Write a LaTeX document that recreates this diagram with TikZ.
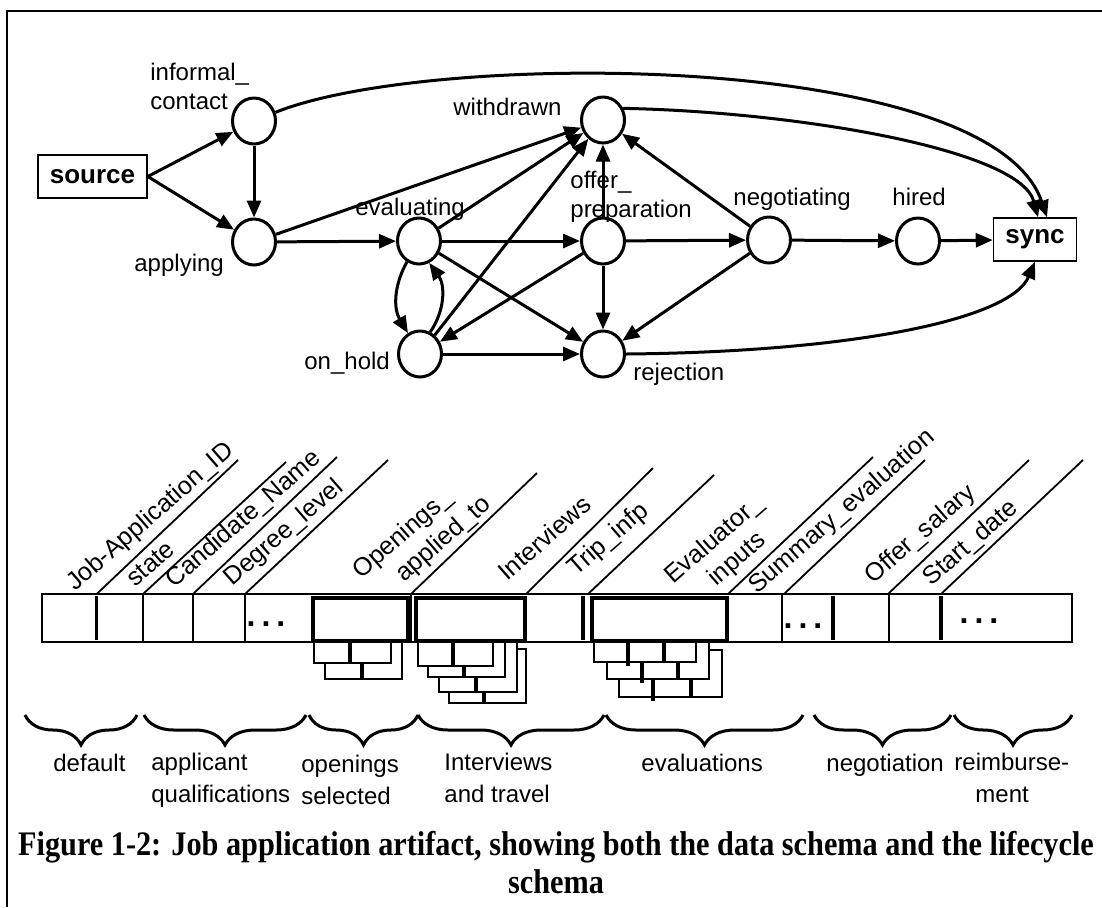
\documentclass[tikz,border=0pt]{standalone}
\usepackage{fontspec}
\setmainfont{Liberation Sans}
\newfontfamily\capfont[FakeStretch=0.88]{Liberation Serif}
\usetikzlibrary{shapes.geometric,arrows.meta,decorations.pathreplacing}

\begin{document}
\begin{tikzpicture}[x=0.5pt, y=0.5pt
    , state/.style = {ellipse, draw, line width=1.5pt, minimum width=21.5pt, minimum height=23pt, inner sep=0pt}
    , term/.style = {rectangle, draw, line width=0.8pt, minimum height=21.5pt, inner sep=0pt, font=\fontsize{13}{15}\selectfont\bfseries}
    , lbl/.style = {inner sep=0pt, font=\fontsize{12}{14.5}\selectfont}
    , grplbl/.style = {inner sep=0pt, font=\fontsize{12}{15.8}\selectfont}
    , flow/.style = {-{Triangle[length=8.5pt,width=7pt]}, line width=1.5pt}
    , field/.style = {inner sep=0pt, font=\fontsize{12.6}{15}\selectfont, rotate=41, anchor=base west}
    , thinline/.style = {line width=0.9pt}
    , thickline/.style = {line width=1.6pt}
    , boxline/.style = {line width=2pt}
    , card/.style = {draw, fill=white, line width=1pt}
    , grp/.style = {decorate, decoration={brace, amplitude=15pt}, line width=1.5pt}
    , dots/.style = {inner sep=0pt, font=\fontsize{16}{18}\selectfont\bfseries}
]
\useasboundingbox (0,0) rectangle (1102,-907);
% frame
\draw[line width=1pt] (7,-907) -- (7,-11) -- (1102,-11);

% lifecycle schema
\node[term, minimum width=54.5pt] (src) at (92.5,-176.5) {source};
\node[state] (ic) at (254,-121) {};
\node[state] (app) at (254,-242) {};
\node[state] (ev) at (419,-241) {};
\node[state] (oh) at (420,-354) {};
\node[state] (wd) at (603,-120) {};
\node[state] (op) at (603,-241) {};
\node[state] (rj) at (603,-354) {};
\node[state] (ng) at (769,-240) {};
\node[state] (hi) at (918,-241) {};
\node[term, minimum width=41.5pt] (sy) at (1035,-239.5) {sync};

\node[lbl, align=left, anchor=north west] (ic-t) at (150,-63) {informal\_\\contact};
\node[lbl, anchor=base west] (app-t) at (134,-271) {applying};
\node[lbl, anchor=base west] (ev-t) at (355,-215) {evaluating};
\node[lbl, anchor=base west] (oh-t) at (304,-369) {on\_hold};
\node[lbl, anchor=base west] (wd-t) at (453,-115) {withdrawn};
\node[lbl, align=left, anchor=north west] (op-t) at (570,-170.5) {offer\_\\preparation};
\node[lbl, anchor=base west] (ng-t) at (733,-205) {negotiating};
\node[lbl, anchor=base west] (hi-t) at (892,-205) {hired};
\node[lbl, anchor=base west] (rj-t) at (633,-380) {rejection};

\draw[flow] (src.east) -- (ic);
\draw[flow] (src.east) -- (app);
\draw[flow] (ic) -- (app);
\draw[flow] (app) -- (ev);
\draw[flow] (app) -- (wd);
\draw[flow] (ev) -- (wd);
\draw[flow] (ev) -- (op);
\draw[flow] (ev) -- (rj);
\draw[flow] (ev.-120) to[bend right=30] (oh.120);
\draw[flow] (oh.65) to[bend right=35] (ev.-65);
\draw[flow] (oh) -- (wd);
\draw[flow] (oh) -- (rj);
\draw[flow] (op) -- (wd);
\draw[flow] (op) -- (ng);
\draw[flow] (op) -- (rj);
\draw[flow] (op) -- (oh);
\draw[flow] (ng) -- (wd);
\draw[flow] (ng) -- (rj);
\draw[flow] (ng) -- (hi);
\draw[flow] (hi) -- (sy);
\draw[flow] (ic) .. controls (430,-50) and (990,-50) .. ([xshift=6pt]sy.north);
\draw[flow] (wd.30) .. controls (800,-112) and (1020,-150) .. ([xshift=1.5pt]sy.north);
\draw[flow] (rj.east) .. controls (850,-352) and (1010,-320) .. (sy.south);

% data schema: nested repeating groups
\foreach \l/\r/\b/\d in {325/402/679/362, 314/391/663/350} {
    \draw[card] (\l,-641) rectangle (\r,-\b);
    \draw[thickline] (\d,-641) -- (\d,-\b);
}
\foreach \l/\r/\t/\b/\d in {449/526/649/703/484, 439/517/641/692/476, 428/505/641/677/464, 418/493/641/666/453} {
    \draw[card] (\l,-\t) rectangle (\r,-\b);
    \draw[thickline] (\d,-\t) -- (\d,-\b);
}
\foreach \l/\r/\t/\b/\d/\e in {619/722/650/697/653/691, 607/709/641/679/642/678, 594/696/641/662/628/664} {
    \draw[card] (\l,-\t) rectangle (\r,-\b);
    \draw[thickline] (\d,-\t) -- (\d,-\b-4);
    \draw[thickline] (\e,-\t) -- (\e,-\b);
}

% data schema: the record
\draw[thinline] (42,-594) rectangle (1072,-642);
\foreach \x in {143,193,245,411,782,889}
    \draw[thinline] (\x,-594) -- (\x,-642);
\foreach \x in {96.7,583,833,941}
    \draw[thickline] (\x,-596) -- (\x,-640);
\draw[boxline] (313,-598) rectangle (408,-641);
\draw[boxline] (416,-598) rectangle (525,-641);
\draw[boxline] (592,-598) rectangle (727,-641);
\node[dots] (dots1) at (266,-624) {.\hspace{3pt}.\hspace{3pt}.};
\node[dots] (dots2) at (803,-626) {.\hspace{3pt}.\hspace{3pt}.};
\node[dots] (dots3) at (979,-621) {.\hspace{3pt}.\hspace{3pt}.};

\foreach \sx/\ex/\ey in {96.7/238/460, 143/286/462, 193/337/457, 245/388/460, 411/537/473, 526/653/468, 588/714/475, 728/873/457, 784/925/460, 888/1029/460, 941/1083/460}
    \draw[thinline] (\sx,-594) -- (\ex,-\ey);
\foreach \x/\y/\t [count=\i] in {75/592/Job-Application\_ID, 135/588/state, 174/589/Candidate\_Name, 232/587/Degree\_level, 361/580/Openings\_, 404/583/applied\_to, 507/582/Interviews, 576/577/Trip\_infp, 673/585/Evaluator\_, 716/587/inputs, 757/595/Summary\_evaluation, 873/585/Offer\_salary, 931/587/Start\_date}
    \node[field] (fld\i) at (\x,-\y) {\t};

% groups
\foreach \a/\b in {25/137, 144/306, 309/418, 418/604, 606/803, 814/951, 954/1072}
    \draw[grp] (\b,-715) -- (\a,-715);
\node[grplbl, anchor=base west] (g1) at (53,-771) {default};
\node[grplbl, align=left, anchor=north west] (g2) at (151,-753) {applicant\\qualifications};
\node[grplbl, align=left, anchor=north west] (g3) at (301,-755) {openings\\selected};
\node[grplbl, align=left, anchor=north west] (g4) at (444,-753) {Interviews\\and travel};
\node[grplbl, anchor=base west] (g5) at (641,-771) {evaluations};
\node[grplbl, anchor=base west] (g6) at (826,-771) {negotiation};
\node[grplbl, align=left, anchor=north west] (g7) at (954,-753) {reimburse-\\\hspace*{10.5pt}ment};

\node[inner sep=0pt, align=center, anchor=north, font=\capfont\bfseries\fontsize{17.2}{19}\selectfont] (cap) at (556,-831)
    {Figure 1-2: Job application artifact, showing both the data schema and the lifecycle\\schema};
\end{tikzpicture}
\end{document}
